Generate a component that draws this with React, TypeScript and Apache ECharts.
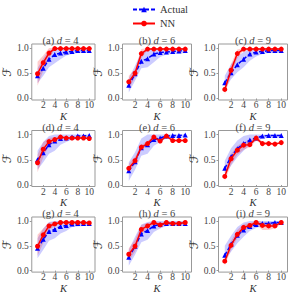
import React, { useEffect, useRef } from "react";
import * as echarts from "echarts";

const K = [1, 2, 3, 4, 5, 6, 7, 8, 9, 10];
const panelLabels = ["(a)", "(b)", "(c)", "(d)", "(e)", "(f)", "(g)", "(h)", "(i)"];
const dValues = [4, 6, 9, 4, 6, 9, 4, 6, 9];
const yTicks = [0, 0.5, 1];
const xTicks = [2, 4, 6, 8, 10];

// (a) d=4
const actualA = [0.45, 0.6, 0.78, 0.87, 0.9, 0.92, 0.93, 0.95, 0.95, 0.95];
const actualLoA = [0.3, 0.45, 0.62, 0.7, 0.78, 0.85, 0.88, 0.9, 0.9, 0.9];
const actualHiA = [0.6, 0.8, 0.95, 1.0, 1.0, 1.0, 1.0, 1.0, 1.0, 1.0];
const nnA = [0.49, 0.71, 0.9, 0.99, 0.99, 0.99, 0.99, 0.99, 0.99, 0.99];
const nnLoA = [0.25, 0.55, 0.8, 0.97, 0.97, 0.97, 0.97, 0.97, 0.97, 0.97];
const nnHiA = [0.73, 0.85, 1.0, 1.0, 1.0, 1.0, 1.0, 1.0, 1.0, 1.0];
// (b) d=6
const actualB = [0.26, 0.49, 0.74, 0.79, 0.88, 0.91, 0.92, 0.93, 0.94, 0.95];
const actualLoB = [0.12, 0.35, 0.6, 0.62, 0.72, 0.82, 0.87, 0.88, 0.89, 0.9];
const actualHiB = [0.4, 0.65, 0.92, 0.97, 1.0, 1.0, 1.0, 1.0, 1.0, 1.0];
const nnB = [0.33, 0.5, 0.89, 0.98, 0.98, 0.98, 0.98, 0.98, 0.98, 0.98];
const nnLoB = [0.18, 0.42, 0.8, 0.96, 0.96, 0.96, 0.96, 0.96, 0.96, 0.96];
const nnHiB = [0.45, 0.58, 0.98, 1.0, 1.0, 1.0, 1.0, 1.0, 1.0, 1.0];
// (c) d=9
const actualC = [0.31, 0.51, 0.67, 0.78, 0.88, 0.92, 0.93, 0.95, 0.95, 0.95];
const actualLoC = [0.18, 0.38, 0.52, 0.62, 0.75, 0.83, 0.88, 0.9, 0.9, 0.9];
const actualHiC = [0.45, 0.68, 0.83, 0.92, 0.98, 1.0, 1.0, 1.0, 1.0, 1.0];
const nnC = [0.18, 0.56, 0.89, 0.98, 0.98, 0.98, 0.98, 0.98, 0.98, 0.98];
const nnLoC = [0.08, 0.45, 0.8, 0.95, 0.95, 0.95, 0.95, 0.95, 0.95, 0.95];
const nnHiC = [0.28, 0.68, 0.97, 1.0, 1.0, 1.0, 1.0, 1.0, 1.0, 1.0];
// (d) d=4
const actualD = [0.5, 0.64, 0.8, 0.87, 0.92, 0.93, 0.95, 0.97, 0.97, 0.98];
const actualLoD = [0.3, 0.45, 0.62, 0.68, 0.8, 0.85, 0.9, 0.92, 0.93, 0.94];
const actualHiD = [0.68, 0.85, 0.97, 1.0, 1.0, 1.0, 1.0, 1.0, 1.0, 1.0];
const nnD = [0.44, 0.71, 0.86, 0.9, 0.95, 0.93, 0.93, 0.93, 0.93, 0.92];
const nnLoD = [0.25, 0.55, 0.78, 0.85, 0.93, 0.91, 0.91, 0.91, 0.91, 0.9];
const nnHiD = [0.6, 0.85, 0.93, 0.95, 0.97, 0.95, 0.95, 0.95, 0.95, 0.94];
// (e) d=6
const actualE = [0.28, 0.46, 0.74, 0.8, 0.9, 0.93, 0.97, 0.98, 0.98, 0.99];
const actualLoE = [0.08, 0.3, 0.58, 0.62, 0.78, 0.85, 0.92, 0.93, 0.94, 0.95];
const actualHiE = [0.45, 0.65, 0.92, 1.0, 1.0, 1.0, 1.0, 1.0, 1.0, 1.0];
const nnE = [0.33, 0.48, 0.75, 0.82, 0.95, 0.87, 0.97, 0.88, 0.88, 0.88];
const nnLoE = [0.25, 0.4, 0.7, 0.78, 0.92, 0.84, 0.95, 0.86, 0.86, 0.86];
const nnHiE = [0.42, 0.56, 0.8, 0.87, 0.98, 0.9, 0.99, 0.9, 0.9, 0.9];
// (f) d=9
const actualF = [0.33, 0.56, 0.72, 0.82, 0.89, 0.93, 0.97, 0.98, 0.98, 0.98];
const actualLoF = [0.2, 0.38, 0.55, 0.68, 0.8, 0.87, 0.92, 0.93, 0.94, 0.94];
const actualHiF = [0.48, 0.73, 0.88, 0.97, 1.0, 1.0, 1.0, 1.0, 1.0, 1.0];
const nnF = [0.17, 0.52, 0.69, 0.79, 0.8, 0.93, 0.82, 0.82, 0.81, 0.84];
const nnLoF = [0.08, 0.4, 0.6, 0.7, 0.75, 0.88, 0.8, 0.8, 0.79, 0.82];
const nnHiF = [0.3, 0.62, 0.78, 0.85, 0.88, 0.97, 0.86, 0.85, 0.84, 0.86];
// (g) d=4
const actualG = [0.45, 0.63, 0.79, 0.83, 0.89, 0.91, 0.94, 0.95, 0.95, 0.95];
const actualLoG = [0.25, 0.42, 0.6, 0.65, 0.75, 0.8, 0.88, 0.89, 0.9, 0.9];
const actualHiG = [0.65, 0.85, 0.98, 1.0, 1.0, 1.0, 1.0, 1.0, 1.0, 1.0];
const nnG = [0.49, 0.72, 0.9, 0.94, 0.97, 0.97, 0.97, 0.97, 0.97, 0.96];
const nnLoG = [0.3, 0.55, 0.82, 0.9, 0.95, 0.95, 0.95, 0.95, 0.95, 0.94];
const nnHiG = [0.72, 0.85, 0.97, 0.98, 0.99, 0.99, 0.99, 0.99, 0.99, 0.98];
// (h) d=6
const actualH = [0.27, 0.49, 0.74, 0.81, 0.9, 0.93, 0.95, 0.95, 0.95, 0.95];
const actualLoH = [0.1, 0.32, 0.57, 0.62, 0.78, 0.85, 0.9, 0.9, 0.9, 0.9];
const actualHiH = [0.42, 0.68, 0.93, 0.98, 1.0, 1.0, 1.0, 1.0, 1.0, 1.0];
const nnH = [0.33, 0.49, 0.83, 0.9, 0.97, 0.92, 0.97, 0.95, 0.95, 0.97];
const nnLoH = [0.2, 0.38, 0.75, 0.84, 0.94, 0.88, 0.93, 0.93, 0.93, 0.94];
const nnHiH = [0.45, 0.62, 0.92, 0.96, 0.99, 0.96, 0.99, 0.98, 0.98, 0.99];
// (i) d=9
const actualI = [0.31, 0.53, 0.71, 0.82, 0.89, 0.93, 0.95, 0.95, 0.97, 0.97];
const actualLoI = [0.2, 0.38, 0.55, 0.68, 0.8, 0.86, 0.9, 0.9, 0.92, 0.92];
const actualHiI = [0.5, 0.7, 0.88, 0.97, 1.0, 1.0, 1.0, 1.0, 1.0, 1.0];
const nnI = [0.19, 0.51, 0.73, 0.87, 0.91, 0.97, 0.91, 0.9, 0.9, 0.97];
const nnLoI = [0.1, 0.42, 0.65, 0.8, 0.86, 0.93, 0.82, 0.82, 0.85, 0.94];
const nnHiI = [0.3, 0.6, 0.82, 0.94, 0.96, 1.0, 0.98, 0.96, 0.95, 0.99];

const actualMeans = [actualA, actualB, actualC, actualD, actualE, actualF, actualG, actualH, actualI];
const actualLows = [actualLoA, actualLoB, actualLoC, actualLoD, actualLoE, actualLoF, actualLoG, actualLoH, actualLoI];
const actualHighs = [actualHiA, actualHiB, actualHiC, actualHiD, actualHiE, actualHiF, actualHiG, actualHiH, actualHiI];
const nnMeans = [nnA, nnB, nnC, nnD, nnE, nnF, nnG, nnH, nnI];
const nnLows = [nnLoA, nnLoB, nnLoC, nnLoD, nnLoE, nnLoF, nnLoG, nnLoH, nnLoI];
const nnHighs = [nnHiA, nnHiB, nnHiC, nnHiD, nnHiE, nnHiF, nnHiG, nnHiH, nnHiI];

const SERIF = "'Liberation Serif', 'DejaVu Serif', serif";
const colLeft = [26, 122.5, 218.5];
const rowTop = [44, 130.5, 217];
const gridW = 69;
const gridH = 56;

function bandSeries(p: number, lo: number[], hi: number[], fill: string, name: string) {
  return {
    type: "custom",
    name,
    xAxisIndex: p,
    yAxisIndex: p,
    silent: true,
    z: 1,
    data: K.map((k, i) => [k, lo[i], hi[i]]),
    encode: { x: 0, y: [1, 2] },
    renderItem: (params: any, api: any) => {
      if (params.dataIndex !== 0) return null;
      const upper = K.map((k, i) => api.coord([k, hi[i]]));
      const lower = K.map((k, i) => api.coord([k, lo[i]])).reverse();
      return {
        type: "polygon",
        shape: { points: upper.concat(lower) },
        style: { fill, stroke: "none" },
      };
    },
  };
}

export default function App() {
  const ref = useRef<HTMLDivElement>(null);
  useEffect(() => {
    if (!ref.current) return;
    const chart = echarts.init(ref.current, undefined, { renderer: "svg" });
    const grids: any[] = [];
    const xAxes: any[] = [];
    const yAxes: any[] = [];
    const titles: any[] = [];
    const series: any[] = [];
    for (let p = 0; p < 9; p++) {
      const r = Math.floor(p / 3);
      const c = p % 3;
      grids.push({
        left: colLeft[c],
        top: rowTop[r],
        width: gridW,
        height: gridH,
        show: true,
        borderColor: "#999",
        borderWidth: 1,
        backgroundColor: "transparent",
        containLabel: false,
      });
      xAxes.push({
        type: "value",
        gridIndex: p,
        min: 0,
        max: 11,
        name: "K",
        nameLocation: "middle",
        nameGap: 6.5,
        nameTextStyle: { fontFamily: SERIF, fontStyle: "italic", fontSize: 10.5, color: "#333", lineHeight: 10 },
        axisLine: { show: false },
        splitLine: { show: false },
        axisTick: { show: true, length: 2, lineStyle: { color: "#999" }, customValues: xTicks },
        axisLabel: { customValues: xTicks, fontFamily: SERIF, fontSize: 9.5, color: "#444", margin: 1, lineHeight: 8 },
      });
      yAxes.push({
        type: "value",
        gridIndex: p,
        min: -0.03,
        max: 1.08,
        name: "ℱ",
        nameLocation: "middle",
        nameGap: 14,
        nameRotate: 90,
        nameTextStyle: { fontFamily: "'DejaVu Sans', sans-serif", fontSize: 12, color: "#333", lineHeight: 10 },
        axisLine: { show: false },
        splitLine: { show: false },
        axisTick: { show: true, length: 2, lineStyle: { color: "#999" }, customValues: yTicks },
        axisLabel: {
          customValues: yTicks,
          fontFamily: SERIF,
          fontSize: 9.5,
          color: "#444",
          margin: 3,
          formatter: (v: number) => v.toFixed(1),
        },
      });
      titles.push({
        text: `${panelLabels[p]} {i|d} = ${dValues[p]}`,
        left: colLeft[c] + gridW / 2,
        top: rowTop[r] - 8.5,
        textAlign: "center",
        padding: 0,
        textStyle: {
          fontFamily: SERIF,
          fontSize: 10.5,
          fontWeight: "normal",
          color: "#444",
          lineHeight: 10,
          rich: { i: { fontFamily: SERIF, fontStyle: "italic", fontSize: 10.5, color: "#444", lineHeight: 10 } },
        },
      });
      const pts = (arr: number[]) => arr.map((v, i) => [K[i], v]);
      series.push(
        bandSeries(p, actualLows[p], actualHighs[p], "rgba(0,0,255,0.2)", "actualBand" + p),
        bandSeries(p, nnLows[p], nnHighs[p], "rgba(255,0,0,0.2)", "nnBand" + p),
        {
          type: "line",
          name: "Actual",
          xAxisIndex: p,
          yAxisIndex: p,
          data: pts(actualMeans[p]),
          symbol: "triangle",
          symbolSize: 5,
          color: "#0000ff",
          itemStyle: { color: "#0000ff" },
          lineStyle: { color: "#0000ff", width: 1.5, type: [4, 2] },
          z: 3,
        },
        {
          type: "line",
          name: "NN",
          xAxisIndex: p,
          yAxisIndex: p,
          data: pts(nnMeans[p]),
          symbol: "circle",
          symbolSize: 5,
          color: "#ff0000",
          itemStyle: { color: "#ff0000" },
          lineStyle: { color: "#ff0000", width: 1.5 },
          z: 4,
        }
      );
    }
    chart.setOption({
      animation: false,
      backgroundColor: "#fff",
      title: titles,
      legend: {
        data: ["Actual", "NN"],
        orient: "vertical",
        left: 132,
        top: 4,
        itemWidth: 22,
        itemHeight: 7,
        itemGap: 3,
        padding: 0,
        textStyle: { fontFamily: SERIF, fontSize: 10.5, color: "#333", lineHeight: 11 },
      },
      grid: grids,
      xAxis: xAxes,
      yAxis: yAxes,
      series,
    });
    return () => chart.dispose();
  }, []);
  return <div ref={ref} style={{ position: "absolute", left: 0, top: 0, width: 291, height: 295 }} />;
}
